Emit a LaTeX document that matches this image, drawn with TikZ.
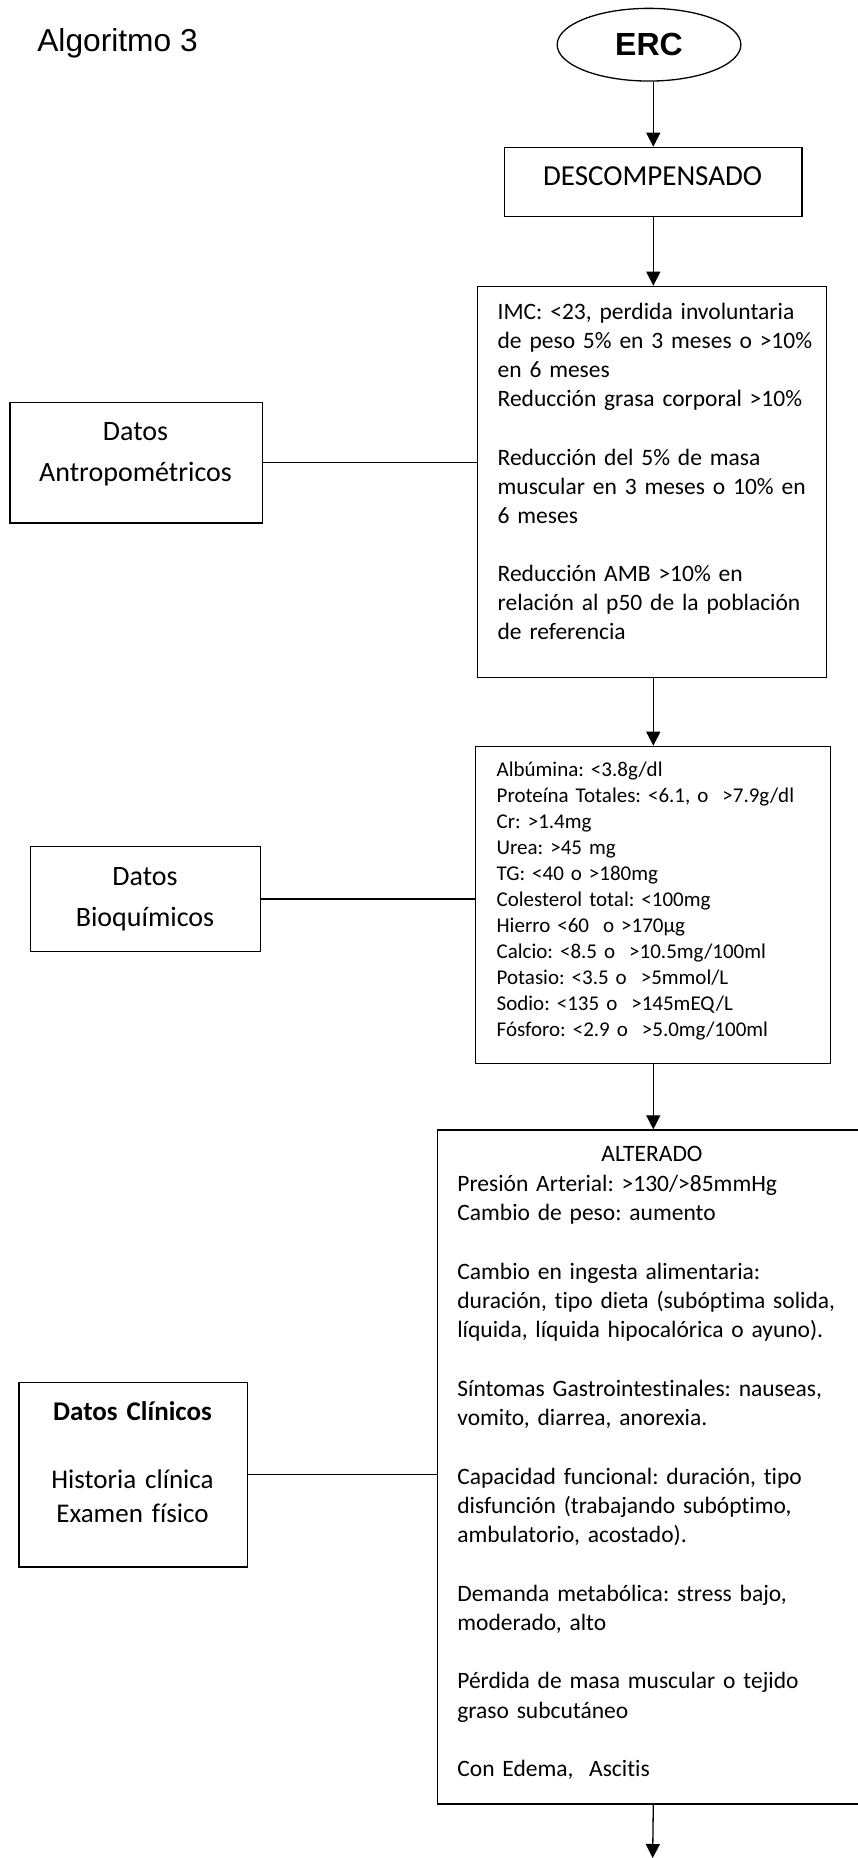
\documentclass[tikz,border=0pt]{standalone}
\usepackage{fontspec}
\setmainfont{Carlito}[Ligatures=NoCommon]
\newfontfamily\arialfont{Liberation Sans}
\usetikzlibrary{arrows.meta,shapes.geometric}
\frenchspacing
\begin{document}
\frenchspacing
\begin{tikzpicture}[x=1pt,y=-1pt,line width=1.3pt,
  boxnode/.style={draw, rectangle, inner sep=0pt, anchor=north west},
  arr/.style={-{Triangle[width=14pt,length=14pt]}},
  txt/.style={inner sep=0pt, anchor=base west, align=left, text width=420pt},
  ctxt/.style={inner sep=0pt, anchor=base, align=center, text width=250pt}]
\useasboundingbox (0,0) rectangle (858,1858);
\clip (0,0) rectangle (858,1858);

\node[anchor=base west, inner sep=0pt, font=\arialfont\fontsize{31.7}{38}\selectfont] (title) at (36.7,51) {Algoritmo 3};

\node[draw, ellipse, minimum width=183.7pt, minimum height=72.7pt, inner sep=0pt,
      font=\arialfont\bfseries\fontsize{32}{38}\selectfont] (erc) at (649,44.7) {ERC};

\node[boxnode, minimum width=297.3pt, minimum height=69.3pt] (descbox) at (504,146.7) {};
\node[anchor=base, inner sep=0pt, font=\fontsize{29}{35}\selectfont] (desctxt) at (652.65,185) {DESCOMPENSADO};

\node[boxnode, minimum width=349.3pt, minimum height=391pt] (antbox) at (476.7,285.7) {};
\node[txt, font=\fontsize{23.5}{29.15}\selectfont] (anttxt) at (497,319.3) {IMC: <23, perdida involuntaria\\ de peso 5\% en 3 meses o >10\%\\ en 6 meses\\ Reducción grasa corporal >10\%\\[29.15pt] Reducción del 5\% de masa\\ muscular en 3 meses o 10\% en\\ 6 meses\\[29.15pt] Reducción AMB >10\% en\\ relación al p50 de la población\\ de referencia};

\node[boxnode, minimum width=355pt, minimum height=317pt] (biobox) at (475,745.7) {};
\node[txt, font=\fontsize{21}{26}\selectfont] (biotxt) at (496,776.7) {Albúmina: <3.8g/dl\\ Proteína Totales: <6.1, o\ \ >7.9g/dl\\ Cr: >1.4mg\\ Urea: >45 mg\\ TG: <40 o >180mg\\ Colesterol total: <100mg\\ Hierro <60\ \ o >170µg\\ Calcio: <8.5 o\ \ >10.5mg/100ml\\ Potasio: <3.5 o\ \ >5mmol/L\\ Sodio: <135 o\ \ >145mEQ/L\\ Fósforo: <2.9 o\ \ >5.0mg/100ml};

\node[boxnode, minimum width=430.6pt, minimum height=674pt] (clinbox) at (436.7,1129.3) {};
\node[anchor=base, inner sep=0pt, font=\fontsize{23.5}{29.25}\selectfont] (alttxt) at (652,1161.7) {ALTERADO};
\node[txt, font=\fontsize{23.5}{29.25}\selectfont] (clintxt) at (456.7,1191.7) {Presión Arterial: >130/>85mmHg\\ Cambio de peso: aumento\\[29.25pt] Cambio en ingesta alimentaria:\\ duración, tipo dieta (subóptima solida,\\ líquida, líquida hipocalórica o ayuno).\\[29.25pt] Síntomas Gastrointestinales: nauseas,\\ vomito, diarrea, anorexia.\\[29.25pt] Capacidad funcional: duración, tipo\\ disfunción (trabajando subóptimo,\\ ambulatorio, acostado).\\[29.25pt] Demanda metabólica: stress bajo,\\ moderado, alto\\[29.25pt] Pérdida de masa muscular o tejido\\ graso subcutáneo\\[29.25pt] Con Edema,\ \ Ascitis};

\node[boxnode, minimum width=252.4pt, minimum height=120.6pt] (antleft) at (9.3,401.7) {};
\node[ctxt, font=\fontsize{28}{41.7}\selectfont] (antlefttxt) at (135.5,440) {Datos\\ Antropométricos};

\node[boxnode, minimum width=230pt, minimum height=104.6pt] (bioleft) at (30,846) {};
\node[ctxt, font=\fontsize{28}{41.7}\selectfont] (biolefttxt) at (145,885) {Datos\\ Bioquímicos};

\node[boxnode, minimum width=228.4pt, minimum height=184.6pt] (clinleft) at (18.3,1381.7) {};
\node[ctxt, font=\fontsize{27}{34}\selectfont] (clinlefttxt) at (132.5,1420) {\textbf{Datos Clínicos}\\[34pt] Historia clínica\\ Examen físico};

\coordinate (endpt) at (652.65,1858);

\draw[arr] (erc.south -| descbox.north) -- (descbox.north);
\draw[arr] (descbox.south) -- (descbox.south |- antbox.north);
\draw[arr] (descbox.south |- antbox.south) -- (descbox.south |- biobox.north);
\draw[arr] (descbox.south |- biobox.south) -- (descbox.south |- clinbox.north);
\draw[arr] (descbox.south |- clinbox.south) -- (endpt);

\draw (antleft.east) -- (antleft.east -| antbox.west);
\draw (bioleft.east) -- (bioleft.east -| biobox.west);
\draw (clinleft.east) -- (clinleft.east -| clinbox.west);
\end{tikzpicture}
\end{document}
